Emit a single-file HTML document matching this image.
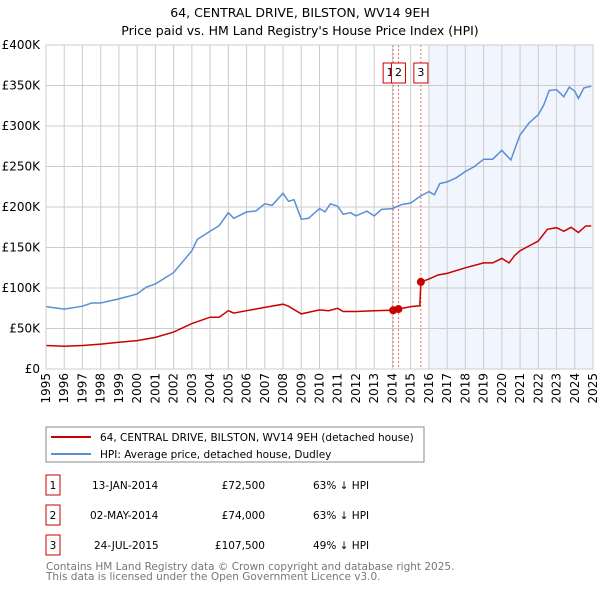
<!DOCTYPE html>
<html><head><meta charset="utf-8"><style>
body{margin:0;width:600px;height:590px;background:#fff;font-family:"DejaVu Sans","Liberation Sans",sans-serif;overflow:hidden}
svg{position:absolute;left:0;top:0}
</style></head><body>
<svg id="chart" width="600" height="590" viewBox="0 0 600 590">
<text x="300" y="17" text-anchor="middle" font-size="12.5">64, CENTRAL DRIVE, BILSTON, WV14 9EH</text>
<text x="300" y="35" text-anchor="middle" font-size="12.5">Price paid vs. HM Land Registry's House Price Index (HPI)</text>
<g id="plot"></g>
<rect x="46" y="427" width="378" height="35" fill="#fff" stroke="#888"/>
<line x1="51" y1="437" x2="91" y2="437" stroke="#cc0000" stroke-width="2"/>
<text x="100" y="441" font-size="10.5">64, CENTRAL DRIVE, BILSTON, WV14 9EH (detached house)</text>
<line x1="51" y1="454" x2="91" y2="454" stroke="#5b8fd4" stroke-width="2"/>
<text x="100" y="458" font-size="10.5">HPI: Average price, detached house, Dudley</text>
<g font-size="10.5">
<rect x="46" y="475" width="14" height="20" fill="none" stroke="#cc0000"/><text x="53" y="489" text-anchor="middle">1</text>
<text x="92" y="489">13-JAN-2014</text><text x="265" y="489" text-anchor="end">£72,500</text><text x="313" y="489">63% ↓ HPI</text>
<rect x="46" y="505" width="14" height="20" fill="none" stroke="#cc0000"/><text x="53" y="519" text-anchor="middle">2</text>
<text x="90" y="519">02-MAY-2014</text><text x="265" y="519" text-anchor="end">£74,000</text><text x="313" y="519">63% ↓ HPI</text>
<rect x="46" y="535" width="14" height="20" fill="none" stroke="#cc0000"/><text x="53" y="549" text-anchor="middle">3</text>
<text x="94" y="549">24-JUL-2015</text><text x="265" y="549" text-anchor="end">£107,500</text><text x="313" y="549">49% ↓ HPI</text>
</g>
<text x="46" y="570" font-size="10.5" fill="#777">Contains HM Land Registry data © Crown copyright and database right 2025.</text>
<text x="46" y="580" font-size="10.5" fill="#777">This data is licensed under the Open Government Licence v3.0.</text>
</svg>
<script>
const yTicks=[0,50,100,150,200,250,300,350,400];
const yTickLabels=["£0","£50K","£100K","£150K","£200K","£250K","£300K","£350K","£400K"];
const xYears=[1995,1996,1997,1998,1999,2000,2001,2002,2003,2004,2005,2006,2007,2008,2009,2010,2011,2012,2013,2014,2015,2016,2017,2018,2019,2020,2021,2022,2023,2024,2025];
const hpiYears=[1995,1996,1997,1997.5,1998,1999,2000,2000.5,2001,2002,2003,2003.3,2004,2004.5,2005,2005.3,2006,2006.5,2007,2007.4,2008,2008.3,2008.6,2009,2009.4,2010,2010.3,2010.6,2011,2011.3,2011.7,2012,2012.6,2013,2013.4,2014,2014.5,2015,2015.5,2016,2016.3,2016.6,2017,2017.5,2018,2018.5,2019,2019.5,2020,2020.5,2020.8,2021,2021.5,2022,2022.3,2022.6,2023,2023.4,2023.7,2024,2024.2,2024.5,2024.9];
const hpiValues=[77,74,77.5,81.5,81.5,86.5,92.6,101,105,119,146,160,170,177,193,186,194,195,204,202,217,207,209,185,186,198,194,204,201,191,193,189,195,189,197,198,203,205,213,219,215,229,231,236,244,250,259,259,270,258,277,289,304,314,326,344,345,336,348,343,334,347,349];
const priceYears=[1995,1996,1997,1998,1999,2000,2001,2002,2003,2004,2004.5,2005,2005.3,2006,2007,2008,2008.3,2009,2010,2010.5,2011,2011.3,2012,2013,2014.04,2014.33,2015,2015.5,2015.56,2016,2016.5,2017,2018,2019,2019.5,2020,2020.4,2020.7,2021,2022,2022.5,2023,2023.4,2023.8,2024.2,2024.6,2024.9];
const priceValues=[29,28,29,30.7,33,35,39,45.5,56,64,64,72,69,72,76,80,77.5,68,73,72,75,71,71,72,72.5,74,77,78,107.5,111,116,118,125,131,131,136.5,131,140,146,158,172.5,174.5,170,175,168.5,176.5,176.5];
const saleYears=[2014.04,2014.33,2015.56];
const saleValues=[72.5,74,107.5];
const saleLabels=["1","2","3"];

const NS="http://www.w3.org/2000/svg";
const L=46,R=593,T=45,B=369;
const xs=y=>L+(y-1995)/30*(R-L);
const ys=v=>B-v/400*(B-T);
const g=document.getElementById('plot');
function mk(t,a,p){const e=document.createElementNS(NS,t);for(const k in a)e.setAttribute(k,a[k]);(p||g).appendChild(e);return e;}
let sh=mk('rect',{x:xs(2016),y:T,width:R-xs(2016),height:B-T,fill:'#eef3fc',opacity:0.8});


yTicks.forEach((v,i)=>{
 let l=mk('line',{x1:L,x2:R,y1:ys(v),y2:ys(v),stroke:'#ccc'});
 
 
 let t=mk('text',{x:L-6,y:ys(v)+4,'text-anchor':'end','font-size':'12'});
 t.textContent=yTickLabels[i];
 
 
});
xYears.forEach(yr=>{
 let l=mk('line',{x1:xs(yr),x2:xs(yr),y1:T,y2:B,stroke:'#ccc'});
 
 
 let t=mk('text',{x:0,y:0,'text-anchor':'end','font-size':'12',transform:`translate(${xs(yr)+4},${B+4}) rotate(-90)`});
 t.textContent=yr;
 
 
});
saleYears.forEach((yr,i)=>{
 let l=mk('line',{x1:xs(yr),x2:xs(yr),y1:T,y2:B,stroke:'#e05050','stroke-dasharray':'2,2','stroke-width':0.8});
 
 
});
const path=(X,Y)=>X.map((x,i)=>(i?'L':'M')+xs(x).toFixed(1)+','+ys(Y[i]).toFixed(1)).join('');
let hp=mk('path',{d:path(hpiYears,hpiValues),fill:'none',stroke:'#5b8fd4','stroke-width':1.5});


let pp=mk('path',{d:path(priceYears,priceValues),fill:'none',stroke:'#cc0000','stroke-width':1.5});


saleYears.forEach((yr,i)=>{
 let c=mk('circle',{cx:xs(yr),cy:ys(saleValues[i]),r:4,fill:'#cc0000'});
 
 
 let bx=xs(yr)-(i===0?10:7);
 let r=mk('rect',{x:bx,y:63,width:14,height:20,fill:'#fff',stroke:'#cc0000'});
 
 
 let t=mk('text',{x:bx+7,y:76,'text-anchor':'middle','font-size':'11'});
 t.textContent=saleLabels[i];
 
 
});
let ax=mk('rect',{x:L,y:T,width:R-L,height:B-T,fill:'none',stroke:'#ccc'});


</script>
</body></html>
